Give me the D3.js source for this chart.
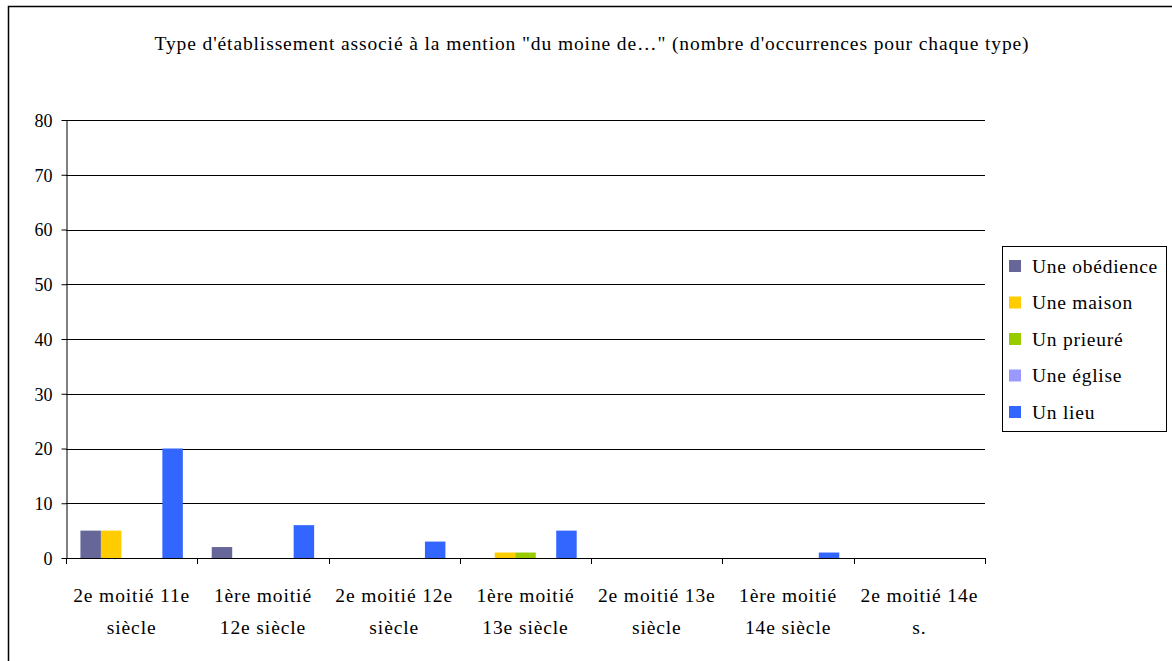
<!DOCTYPE html>
<html><head><meta charset="utf-8">
<script src="https://cdn.jsdelivr.net/npm/d3@7"></script>
<style>body{margin:0;background:#fff}svg{display:block}</style>
</head><body>
<script>
const title = "Type d'établissement associé à la mention \"du moine de…\" (nombre d'occurrences pour chaque type)";
const categories = [["2e moitié 11e","siècle"],["1ère moitié","12e siècle"],["2e moitié 12e","siècle"],["1ère moitié","13e siècle"],["2e moitié 13e","siècle"],["1ère moitié","14e siècle"],["2e moitié 14e","s."]];
const seriesNames = ["Une obédience","Une maison","Un prieuré","Une église","Un lieu"];
const seriesColors = ["#666699","#FFCC00","#99CC00","#9999FF","#3366FF"];
const obedience = [5,2,0,0,0,0,0];
const maison = [5,0,0,1,0,0,0];
const prieure = [0,0,0,1,0,0,0];
const eglise = [0,0,0,0,0,0,0];
const lieu = [20,6,3,5,0,1,0];
const yTicks = [0,10,20,30,40,50,60,70,80];
const seriesValues = [obedience, maison, prieure, eglise, lieu];

(function(){
const FONT="'Liberation Serif', 'DejaVu Serif', 'Times New Roman', serif";
const W=1172,H=661;
const svg=d3.select("body").append("svg").attr("width",W).attr("height",H);
// fit text: grow font size up to maxSize, then letter-spacing for remainder
function fit(sel, target, size, maxSize){
  sel.style("font-size",size+"px");
  let len=sel.node().getComputedTextLength();
  let s=Math.min(maxSize, size*target/len);
  sel.style("font-size",s+"px");
  len=sel.node().getComputedTextLength();
  const ls=Math.max(0,(target-len)/sel.text().length);
  sel.style("letter-spacing",ls+"px");
  return [s,ls];
}
svg.append("rect").attr("x",8.5).attr("y",6.5).attr("width",W).attr("height",H).attr("fill","none").attr("stroke","#000").attr("stroke-width",1.5);
const tt=svg.append("text").attr("x",592).attr("y",50).attr("text-anchor","middle").style("font-family",FONT).attr("fill","#000").text(title);
fit(tt,875,17,19.5);

const pL=66,pR=985,pT=120,pB=558;
const x=d3.scaleBand().domain(d3.range(categories.length)).range([pL,pR]).paddingInner(0.22).paddingOuter(0.11);
const x1=d3.scaleBand().domain(d3.range(seriesNames.length)).range([0,x.bandwidth()]);
const y=d3.scaleLinear().domain([0,80]).range([pB,pT]);

const g=svg.append("g");
g.selectAll("line.grid").data(yTicks.filter(d=>d>0)).enter().append("line")
 .attr("x1",pL).attr("x2",pR).attr("y1",d=>Math.round(y(d))+0.5).attr("y2",d=>Math.round(y(d))+0.5).attr("stroke","#000").attr("stroke-width",1);

const xb=d3.scaleBand().domain(d3.range(categories.length)).range([pL,pR]);
seriesValues.forEach((vals,si)=>{
  g.selectAll("rect.s"+si).data(vals).enter().append("rect")
   .attr("x",(d,i)=>x(i)+x1(si)).attr("width",x1.bandwidth())
   .attr("y",d=>y(d)).attr("height",d=>y(0)-y(d)).attr("fill",seriesColors[si]);
});

const ya=d3.axisLeft(y).tickValues(yTicks).tickSize(5).tickSizeOuter(0);
const yg=svg.append("g").attr("transform",`translate(${pL+0.5},0)`).call(ya);
yg.attr("font-family",null).attr("font-size",null);
yg.select(".domain").attr("stroke","#000");
yg.selectAll("text").style("font-family",FONT).style("font-size","18px").attr("fill","#000").attr("x",-14).attr("dy","0.35em");
const ticksX=d3.range(categories.length+1).map(i=>i===categories.length?pR:xb(i));
svg.append("line").attr("x1",pL).attr("x2",pR).attr("y1",pB+0.5).attr("y2",pB+0.5).attr("stroke","#000");
svg.selectAll("line.xt").data(ticksX).enter().append("line").attr("x1",d=>Math.round(d)+0.5).attr("x2",d=>Math.round(d)+0.5).attr("y1",pB).attr("y2",pB+6).attr("stroke","#000");
let xf=null;
categories.forEach((c,i)=>{
  c.forEach((line,k)=>{
    const t=svg.append("text").attr("text-anchor","middle").style("font-family",FONT).attr("fill","#000")
      .attr("x",xb(i)+xb.bandwidth()/2).attr("y",602+k*32).text(line);
    if(xf===null) xf=fit(t,117,17,19.5); else t.style("font-size",xf[0]+"px").style("letter-spacing",xf[1]+"px");
  });
});

svg.append("rect").attr("x",1002.5).attr("y",246.5).attr("width",164).attr("height",185).attr("fill","#fff").attr("stroke","#000");
let lf=null;
seriesNames.forEach((n,i)=>{
  const yy=266+i*36.5;
  svg.append("rect").attr("x",1009).attr("y",yy-6).attr("width",12).attr("height",12).attr("fill",seriesColors[i]);
  const t=svg.append("text").attr("x",1032).attr("y",yy).attr("dy","0.35em").style("font-family",FONT).attr("fill","#000").text(n);
  if(lf===null) lf=fit(t,126,17,19.5); else t.style("font-size",lf[0]+"px").style("letter-spacing",lf[1]+"px");
});
})();
</script>
</body></html>
